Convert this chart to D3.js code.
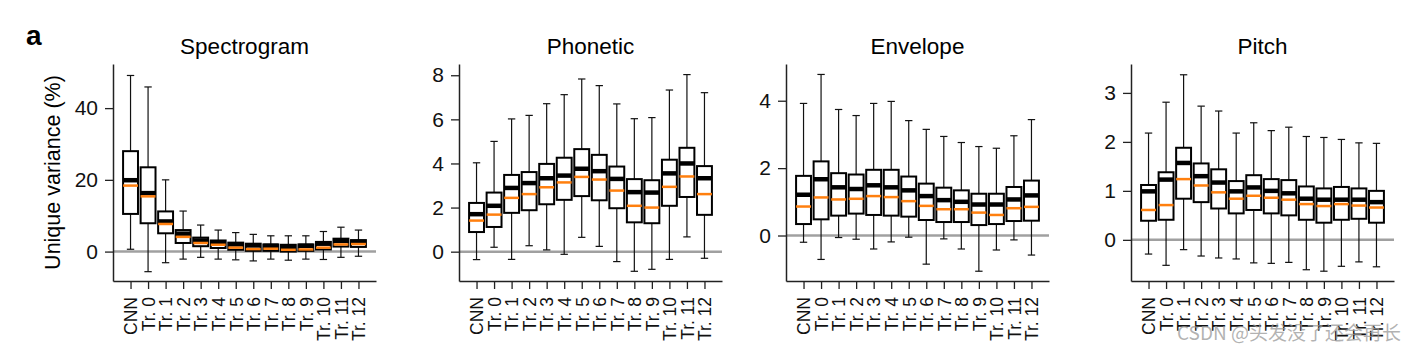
<!DOCTYPE html>
<html>
<head>
<meta charset="utf-8">
<script src="https://cdn.jsdelivr.net/npm/d3@7"></script>
<style>
  body { margin: 0; background: #fff; }
  svg { display: block; font-family: "Liberation Sans", Arial, sans-serif; }
</style>
</head>
<body>
<svg id="chart" width="1418" height="352"></svg>
<script>
const categories = ["CNN", "Tr. 0", "Tr. 1", "Tr. 2", "Tr. 3", "Tr. 4", "Tr. 5", "Tr. 6", "Tr. 7", "Tr. 8", "Tr. 9", "Tr. 10", "Tr. 11", "Tr. 12"];

// Spectrogram
const specHigh   = [49.1, 45.9, 20.0, 11.3, 7.4, 6.0, 5.3, 4.8, 4.4, 4.4, 4.4, 5.6, 6.8, 6.0];
const specQ3     = [28.0, 23.5, 11.2, 6.0, 3.9, 3.1, 2.5, 2.2, 2.0, 1.9, 2.0, 2.7, 3.6, 3.2];
const specMedian = [19.9, 16.3, 8.4, 5.0, 3.1, 2.6, 2.0, 1.7, 1.6, 1.3, 1.6, 2.2, 3.0, 2.7];
const specMean   = [18.4, 15.4, 7.7, 4.1, 2.4, 1.9, 1.1, 0.7, 0.8, 0.5, 0.6, 1.1, 2.0, 2.1];
const specQ1     = [10.5, 7.9, 5.1, 2.4, 1.5, 1.0, 0.5, 0.2, 0.2, 0.0, 0.2, 0.6, 1.4, 1.3];
const specLow    = [0.65, -5.6, -3.1, -2.1, -1.6, -2.1, -2.3, -2.6, -2.1, -2.4, -2.1, -2.2, -1.6, -1.3];

// Phonetic
const phonHigh   = [4.03, 5.0, 6.02, 6.18, 6.71, 7.12, 7.83, 7.53, 6.70, 6.03, 6.08, 7.33, 8.03, 7.21];
const phonQ3     = [2.21, 2.68, 3.48, 3.61, 3.98, 4.26, 4.65, 4.39, 3.86, 3.29, 3.24, 4.17, 4.71, 3.88];
const phonMedian = [1.70, 2.08, 2.89, 3.11, 3.33, 3.45, 3.76, 3.65, 3.30, 2.70, 2.68, 3.55, 4.0, 3.33];
const phonMean   = [1.41, 1.68, 2.44, 2.61, 2.92, 3.14, 3.39, 3.27, 2.77, 2.08, 2.0, 2.94, 3.41, 2.61];
const phonQ1     = [0.89, 1.12, 1.76, 1.88, 2.15, 2.35, 2.52, 2.33, 1.97, 1.33, 1.29, 2.08, 2.48, 1.67];
const phonLow    = [-0.36, 0.20, -0.35, 0.27, 0.08, -0.12, 0.65, 0.24, -0.45, -0.89, -0.80, -0.35, 0.67, -0.30];

// Envelope
const envHigh   = [3.92, 4.78, 3.74, 3.56, 3.92, 3.98, 3.41, 3.15, 2.94, 2.76, 2.64, 2.59, 2.96, 3.44];
const envQ3     = [1.77, 2.20, 1.85, 1.81, 1.95, 1.95, 1.75, 1.54, 1.42, 1.34, 1.24, 1.24, 1.44, 1.63];
const envMedian = [1.21, 1.67, 1.43, 1.38, 1.49, 1.43, 1.34, 1.17, 1.05, 1.0, 0.92, 0.92, 1.07, 1.19];
const envMean   = [0.86, 1.13, 1.07, 1.09, 1.17, 1.14, 1.02, 0.88, 0.78, 0.78, 0.68, 0.61, 0.81, 0.85];
const envQ1     = [0.34, 0.48, 0.59, 0.65, 0.61, 0.59, 0.56, 0.46, 0.40, 0.40, 0.31, 0.34, 0.43, 0.44];
const envLow    = [-0.20, -0.71, -0.06, -0.11, -0.40, -0.19, -0.05, -0.85, -0.10, -0.40, -1.06, -0.43, -0.13, -0.58];

// Pitch
const pitchHigh   = [2.18, 2.81, 3.37, 2.73, 2.63, 2.18, 2.39, 2.23, 2.30, 2.11, 2.09, 2.05, 1.98, 1.97];
const pitchQ3     = [1.12, 1.38, 1.88, 1.56, 1.44, 1.20, 1.32, 1.24, 1.22, 1.09, 1.05, 1.08, 1.05, 1.0];
const pitchMedian = [0.99, 1.23, 1.57, 1.30, 1.17, 0.99, 1.07, 1.0, 0.95, 0.84, 0.82, 0.82, 0.82, 0.77];
const pitchMean   = [0.61, 0.71, 1.24, 1.11, 0.97, 0.84, 0.90, 0.86, 0.82, 0.73, 0.69, 0.73, 0.70, 0.66];
const pitchQ1     = [0.39, 0.41, 0.84, 0.77, 0.64, 0.54, 0.61, 0.54, 0.50, 0.41, 0.35, 0.41, 0.43, 0.35];
const pitchLow    = [-0.29, -0.52, -0.20, -0.33, -0.37, -0.39, -0.47, -0.48, -0.46, -0.61, -0.64, -0.54, -0.45, -0.55];

const panels = [
  { title: "Spectrogram", left: 113, domain: [-8.2, 52.3], ticks: [0, 20, 40],
    high: specHigh, q3: specQ3, median: specMedian, mean: specMean, q1: specQ1, low: specLow },
  { title: "Phonetic", left: 459, domain: [-1.33, 8.51], ticks: [0, 2, 4, 6, 8],
    high: phonHigh, q3: phonQ3, median: phonMedian, mean: phonMean, q1: phonQ1, low: phonLow },
  { title: "Envelope", left: 786, domain: [-1.35, 5.09], ticks: [0, 2, 4],
    high: envHigh, q3: envQ3, median: envMedian, mean: envMean, q1: envQ1, low: envLow },
  { title: "Pitch", left: 1131, domain: [-0.84, 3.59], ticks: [0, 1, 2, 3],
    high: pitchHigh, q3: pitchQ3, median: pitchMedian, mean: pitchMean, q1: pitchQ1, low: pitchLow }
];

const svg = d3.select("#chart");
const plotTop = 64, plotBottom = 281, plotW = 263;
const orange = "#ff7f0e";

svg.append("text")
  .attr("x", 26).attr("y", 45)
  .attr("font-size", 28).attr("font-weight", "bold")
  .text("a");

svg.append("text")
  .attr("transform", "translate(60," + ((plotTop + plotBottom) / 2) + ") rotate(-90)")
  .attr("text-anchor", "middle")
  .attr("font-size", 21.5)
  .text("Unique variance (%)");

panels.forEach(p => {
  const x = d3.scalePoint().domain(categories).range([p.left, p.left + plotW]).padding(1);
  const y = d3.scaleLinear().domain(p.domain).range([plotBottom, plotTop]);
  const step = x.step();
  const boxW = step * 0.85, capW = step * 0.42;

  const rows = categories.map((c, i) => ({
    cat: c, high: p.high[i], q3: p.q3[i], median: p.median[i],
    mean: p.mean[i], q1: p.q1[i], low: p.low[i]
  }));

  const g = svg.append("g");

  g.append("text")
    .attr("x", p.left + plotW / 2).attr("y", 54)
    .attr("text-anchor", "middle")
    .attr("font-size", 22.5)
    .text(p.title);

  // zero line
  g.append("line")
    .attr("x1", p.left).attr("x2", p.left + plotW)
    .attr("y1", y(0)).attr("y2", y(0))
    .attr("stroke", "#a0a0a0").attr("stroke-width", 2.5);

  const box = g.selectAll("g.box").data(rows).enter().append("g").attr("class", "box");

  box.append("line")
    .attr("x1", d => x(d.cat)).attr("x2", d => x(d.cat))
    .attr("y1", d => y(d.low)).attr("y2", d => y(d.high))
    .attr("stroke", "#111").attr("stroke-width", 1.2);

  box.selectAll("line.cap").data(d => [{ cat: d.cat, val: d.low }, { cat: d.cat, val: d.high }])
    .enter().append("line").attr("class", "cap")
    .attr("x1", d => x(d.cat) - capW / 2).attr("x2", d => x(d.cat) + capW / 2)
    .attr("y1", d => y(d.val)).attr("y2", d => y(d.val))
    .attr("stroke", "#111").attr("stroke-width", 1.2);

  box.append("rect")
    .attr("x", d => x(d.cat) - boxW / 2).attr("width", boxW)
    .attr("y", d => y(d.q3)).attr("height", d => y(d.q1) - y(d.q3))
    .attr("fill", "#fff").attr("stroke", "#000").attr("stroke-width", 2);

  box.append("line")
    .attr("x1", d => x(d.cat) - boxW / 2).attr("x2", d => x(d.cat) + boxW / 2)
    .attr("y1", d => y(d.median)).attr("y2", d => y(d.median))
    .attr("stroke", "#000").attr("stroke-width", 4.5);

  box.append("line")
    .attr("x1", d => x(d.cat) - boxW / 2).attr("x2", d => x(d.cat) + boxW / 2)
    .attr("y1", d => y(d.mean)).attr("y2", d => y(d.mean))
    .attr("stroke", orange).attr("stroke-width", 2.5);

  const yAxis = g.append("g")
    .attr("transform", "translate(" + p.left + ",0)")
    .call(d3.axisLeft(y).tickValues(p.ticks).tickFormat(d3.format("d"))
      .tickSize(8).tickPadding(7).tickSizeOuter(0));
  const xAxis = g.append("g")
    .attr("transform", "translate(0," + plotBottom + ")")
    .call(d3.axisBottom(x).tickSize(8).tickSizeOuter(0));

  [yAxis, xAxis].forEach(a => {
    a.attr("color", "#222").attr("font-family", null);
    a.select(".domain").attr("stroke-width", 1.5);
    a.selectAll(".tick line").attr("stroke-width", 1.3);
  });
  yAxis.selectAll("text").attr("font-size", 21).attr("fill", "#111");
  xAxis.selectAll("text")
    .attr("font-size", 17.5).attr("fill", "#111")
    .attr("text-anchor", "end")
    .attr("transform", "rotate(-90)")
    .attr("x", -16).attr("y", 0).attr("dy", "0.36em");
});

svg.append("text")
  .attr("x", 1401).attr("y", 340)
  .attr("text-anchor", "end")
  .attr("font-size", 19)
  .attr("font-family", "'Noto Sans CJK SC', sans-serif")
  .attr("fill", "#999").attr("fill-opacity", 0.75)
  .text("CSDN @头发没了还会再长");
</script>
</body>
</html>
